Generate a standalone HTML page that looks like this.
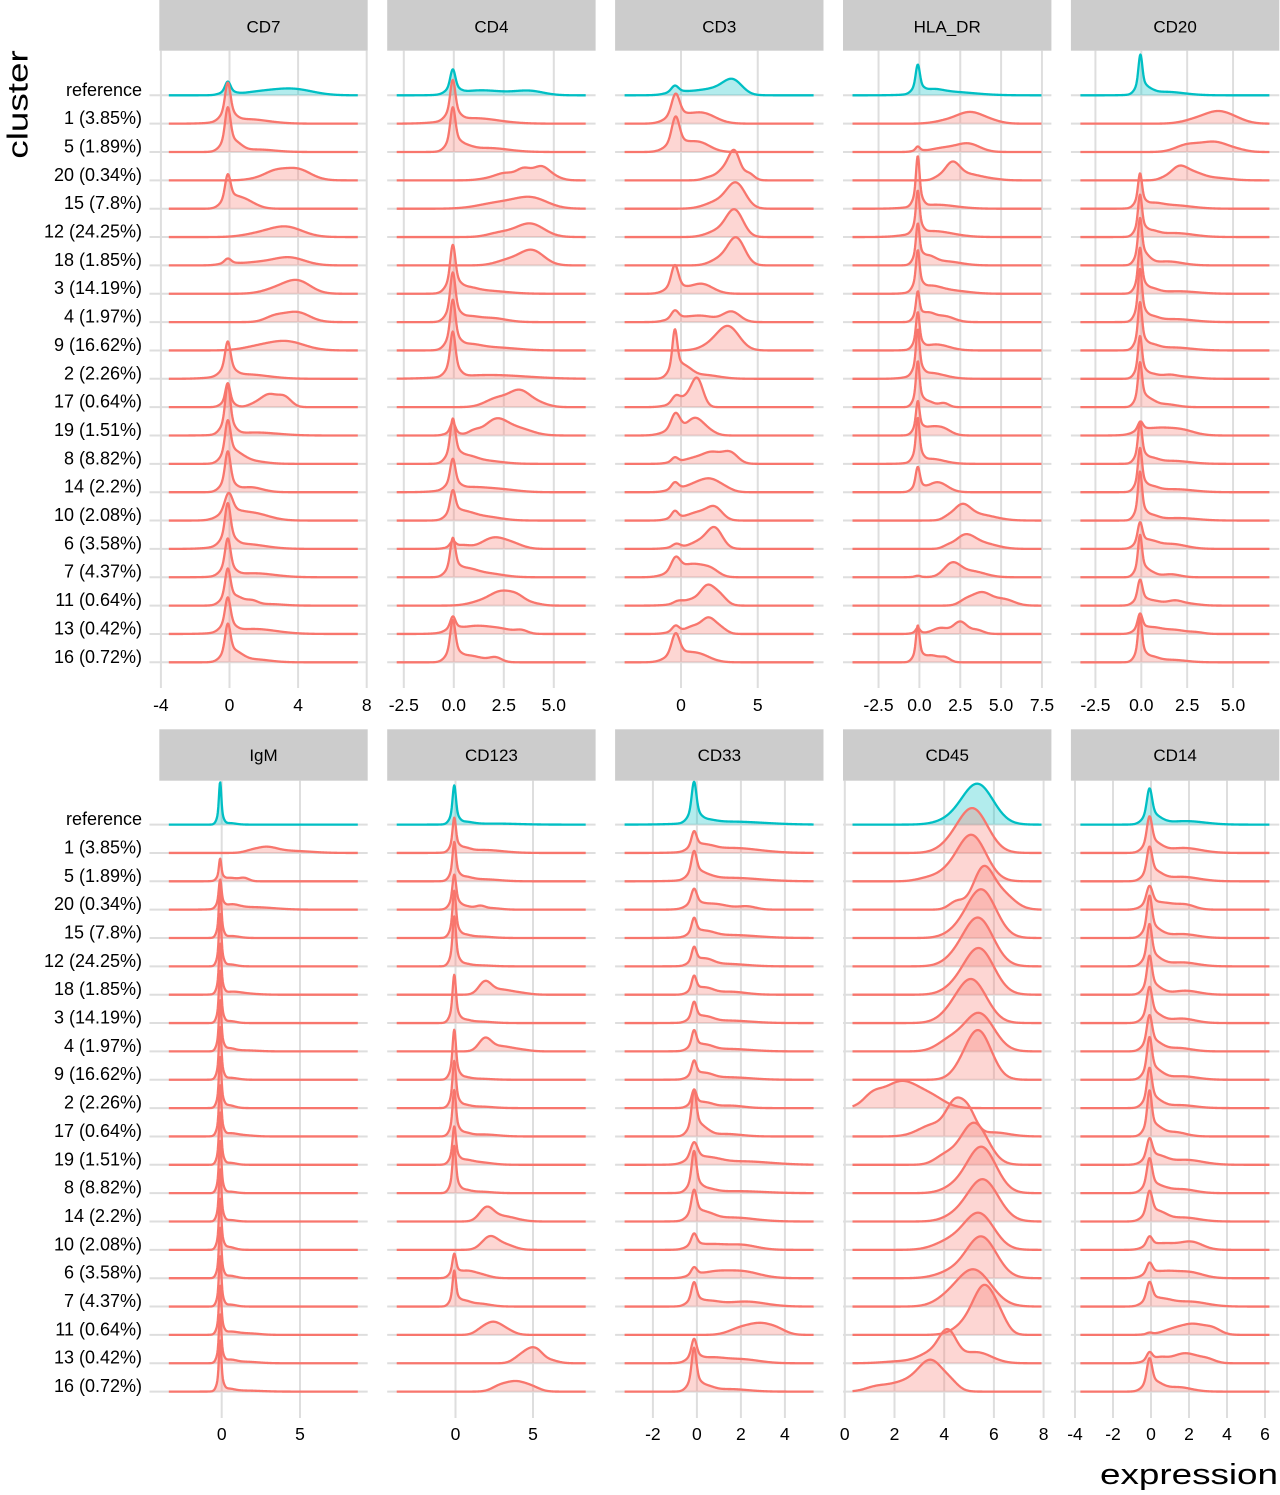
<!DOCTYPE html>
<html><head><meta charset="utf-8"><style>
html,body{margin:0;padding:0;background:#fff;overflow:hidden;}
svg{display:block;}
text{font-family:"Liberation Sans",Arial,Helvetica,sans-serif;fill:#000;}
</style></head><body>
<svg id="s" width="1280" height="1495" viewBox="0 0 1280 1495" xmlns="http://www.w3.org/2000/svg">
<rect width="1280" height="1495" fill="#fff"/>
<g id="grid"></g>
<g id="curves"></g>
<g id="strips">
<rect x="159.3" y="0" width="208.4" height="50.7" fill="#cccccc"/>
<rect x="387.2" y="0" width="208.4" height="50.7" fill="#cccccc"/>
<rect x="615.1" y="0" width="208.4" height="50.7" fill="#cccccc"/>
<rect x="843.0" y="0" width="208.4" height="50.7" fill="#cccccc"/>
<rect x="1070.9" y="0" width="208.4" height="50.7" fill="#cccccc"/>
<rect x="159.3" y="729.3" width="208.4" height="51.4" fill="#cccccc"/>
<rect x="387.2" y="729.3" width="208.4" height="51.4" fill="#cccccc"/>
<rect x="615.1" y="729.3" width="208.4" height="51.4" fill="#cccccc"/>
<rect x="843.0" y="729.3" width="208.4" height="51.4" fill="#cccccc"/>
<rect x="1070.9" y="729.3" width="208.4" height="51.4" fill="#cccccc"/>
<g font-size="17" text-anchor="middle">
<text x="263.5" y="32.6">CD7</text>
<text x="491.4" y="32.6">CD4</text>
<text x="719.3" y="32.6">CD3</text>
<text x="947.2" y="32.6">HLA_DR</text>
<text x="1175.1" y="32.6">CD20</text>
<text x="263.5" y="761">IgM</text>
<text x="491.4" y="761">CD123</text>
<text x="719.3" y="761">CD33</text>
<text x="947.2" y="761">CD45</text>
<text x="1175.1" y="761">CD14</text>
</g>
</g>
<g font-size="18" text-anchor="end">
<text x="142" y="95.8">reference</text>
<text x="142" y="124.1">1 (3.85%)</text>
<text x="142" y="152.5">5 (1.89%)</text>
<text x="142" y="180.8">20 (0.34%)</text>
<text x="142" y="209.2">15 (7.8%)</text>
<text x="142" y="237.5">12 (24.25%)</text>
<text x="142" y="265.9">18 (1.85%)</text>
<text x="142" y="294.2">3 (14.19%)</text>
<text x="142" y="322.6">4 (1.97%)</text>
<text x="142" y="350.9">9 (16.62%)</text>
<text x="142" y="379.3">2 (2.26%)</text>
<text x="142" y="407.6">17 (0.64%)</text>
<text x="142" y="436.0">19 (1.51%)</text>
<text x="142" y="464.3">8 (8.82%)</text>
<text x="142" y="492.7">14 (2.2%)</text>
<text x="142" y="521.0">10 (2.08%)</text>
<text x="142" y="549.4">6 (3.58%)</text>
<text x="142" y="577.7">7 (4.37%)</text>
<text x="142" y="606.1">11 (0.64%)</text>
<text x="142" y="634.4">13 (0.42%)</text>
<text x="142" y="662.8">16 (0.72%)</text>
<text x="142" y="825.1">reference</text>
<text x="142" y="853.4">1 (3.85%)</text>
<text x="142" y="881.8">5 (1.89%)</text>
<text x="142" y="910.1">20 (0.34%)</text>
<text x="142" y="938.5">15 (7.8%)</text>
<text x="142" y="966.8">12 (24.25%)</text>
<text x="142" y="995.2">18 (1.85%)</text>
<text x="142" y="1023.5">3 (14.19%)</text>
<text x="142" y="1051.9">4 (1.97%)</text>
<text x="142" y="1080.2">9 (16.62%)</text>
<text x="142" y="1108.6">2 (2.26%)</text>
<text x="142" y="1136.9">17 (0.64%)</text>
<text x="142" y="1165.3">19 (1.51%)</text>
<text x="142" y="1193.6">8 (8.82%)</text>
<text x="142" y="1222.0">14 (2.2%)</text>
<text x="142" y="1250.3">10 (2.08%)</text>
<text x="142" y="1278.7">6 (3.58%)</text>
<text x="142" y="1307.0">7 (4.37%)</text>
<text x="142" y="1335.4">11 (0.64%)</text>
<text x="142" y="1363.7">13 (0.42%)</text>
<text x="142" y="1392.1">16 (0.72%)</text>
</g>
<g font-size="17.5" text-anchor="middle">
<text x="160.9" y="711">-4</text>
<text x="229.5" y="711">0</text>
<text x="298.1" y="711">4</text>
<text x="366.7" y="711">8</text>
<text x="403.8" y="711">-2.5</text>
<text x="453.8" y="711">0.0</text>
<text x="503.8" y="711">2.5</text>
<text x="553.8" y="711">5.0</text>
<text x="681" y="711">0</text>
<text x="757.8" y="711">5</text>
<text x="878.5" y="711">-2.5</text>
<text x="919.4" y="711">0.0</text>
<text x="960.3" y="711">2.5</text>
<text x="1001.1" y="711">5.0</text>
<text x="1042" y="711">7.5</text>
<text x="1095.4" y="711">-2.5</text>
<text x="1141.3" y="711">0.0</text>
<text x="1187.2" y="711">2.5</text>
<text x="1233.1" y="711">5.0</text>
<text x="221.7" y="1440">0</text>
<text x="300" y="1440">5</text>
<text x="455.5" y="1440">0</text>
<text x="533" y="1440">5</text>
<text x="652.9" y="1440">-2</text>
<text x="696.9" y="1440">0</text>
<text x="740.9" y="1440">2</text>
<text x="784.9" y="1440">4</text>
<text x="844.8" y="1440">0</text>
<text x="894.5" y="1440">2</text>
<text x="944.2" y="1440">4</text>
<text x="993.9" y="1440">6</text>
<text x="1043.6" y="1440">8</text>
<text x="1075" y="1440">-4</text>
<text x="1113" y="1440">-2</text>
<text x="1151" y="1440">0</text>
<text x="1189" y="1440">2</text>
<text x="1227" y="1440">4</text>
<text x="1265" y="1440">6</text>
</g>
<text font-size="29" text-anchor="middle" transform="translate(27.3,104.5) rotate(-90) scale(1.27,1)">cluster</text>
<text font-size="29" text-anchor="end" transform="translate(1278,1484) scale(1.27,1)">expression</text>
</svg>
<script>
(function(){
var NS="http://www.w3.org/2000/svg";
var W=208.4, Ls=[159.3,387.2,615.1,843.0,1070.9];
var B=[95.3,824.6], SP=28.35;
var P=[
{c:0,r:0,z:229.5,k:17.15,t:[-4,0,4,8],d:[
[[-0.1,0.15,13,1],[3.8,1.1,5.5],[2.2,1.2,2.5],[1.5,1.0,1.2]],
[[-0.1,0.15,38,1],[1.0,1.2,4.5]],
[[-0.1,0.15,43,1],[0.5,0.35,5],[1.6,1.0,2.5]],
[[3.9,0.8,11.5],[2.6,0.6,7],[1.6,0.6,1.5]],
[[-0.1,0.15,30,1],[0.6,0.55,10],[1.4,0.5,2.5]],
[[3.3,0.95,10],[1.7,0.9,3]],
[[-0.1,0.18,6,1],[3.5,0.9,7.5],[1.6,1.1,3]],
[[4.0,0.75,12],[2.8,0.8,5]],
[[3.9,0.75,10],[2.6,0.55,5]],
[[3.3,1.05,9],[1.6,0.9,3]],
[[-0.1,0.15,34,1],[0.9,1.3,4.5]],
[[-0.1,0.13,24,1],[2.3,0.45,12],[3.2,0.4,10],[1.5,0.4,3]],
[[-0.1,0.14,50,1],[1.5,1.3,3]],
[[-0.1,0.15,40,1],[0.5,0.45,7],[1.2,0.8,3]],
[[-0.1,0.15,40,1],[1.2,0.7,5]],
[[-0.05,0.22,24,1],[1.0,0.9,7],[2.0,0.8,2]],
[[-0.1,0.15,42,1],[0.8,1.2,5]],
[[-0.1,0.15,37,1],[1.4,1.2,4]],
[[-0.1,0.15,36,1],[0.55,0.35,6],[1.3,0.35,4.5],[2.3,0.8,1.5]],
[[-0.1,0.15,34,1],[1.4,1.3,5]],
[[-0.1,0.15,36,1],[0.5,0.4,6],[1.4,0.9,3]]
]},
{c:1,r:0,z:453.8,k:20.0,t:[-2.5,0,2.5,5],d:[
[[-0.05,0.12,24,1],[1.0,0.9,3.5],[2.2,1.0,2.5],[3.8,0.7,4]],
[[-0.05,0.12,40,1],[1.0,1.2,5.5]],
[[-0.05,0.12,42,1],[0.5,0.4,5],[1.7,1.0,4]],
[[3.5,0.35,10],[4.35,0.4,13],[2.6,0.5,7],[5.0,0.4,3],[1.7,0.5,1.5]],
[[3.9,0.8,10],[2.3,1.0,6]],
[[3.8,0.7,13.5],[2.3,0.6,4]],
[[3.9,0.6,15],[2.7,0.6,5]],
[[-0.05,0.12,46,1],[0.6,0.5,5],[1.6,1.0,3]],
[[-0.05,0.12,48,1],[0.7,0.5,5],[1.9,0.7,4]],
[[-0.05,0.12,48,1],[0.7,0.6,5],[2.0,1.1,3]],
[[-0.05,0.12,45,1],[1.8,1.8,3.8]],
[[3.3,0.5,15],[2.2,0.6,9],[4.2,0.5,4]],
[[-0.05,0.12,13,1],[2.1,0.55,15],[3.2,0.7,7],[1.0,0.3,4]],
[[-0.05,0.12,42,1],[0.6,0.5,7],[1.6,0.8,3]],
[[-0.05,0.12,30,1],[0.8,1.0,5],[2.5,0.8,2]],
[[-0.05,0.12,26,1],[0.5,0.5,7],[1.5,0.8,4]],
[[-0.05,0.13,7,1],[0.5,0.35,3],[2.0,0.6,11],[3.0,0.5,4]],
[[-0.05,0.12,36,1],[0.6,0.5,7],[1.6,0.8,4]],
[[2.4,0.55,13],[3.2,0.4,7],[1.4,0.6,4],[4.0,0.4,2]],
[[-0.05,0.12,14,1],[1.1,0.9,8],[3.4,0.3,3],[2.5,0.6,3]],
[[-0.05,0.12,40,1],[0.6,0.5,5],[2.1,0.3,4],[1.3,0.6,3]]
]},
{c:2,r:0,z:681,k:15.35,t:[0,5],d:[
[[-0.4,0.22,8,1],[1.5,1.3,5],[3.4,0.6,13],[2.6,0.7,3]],
[[-0.35,0.25,28,1],[1.3,0.9,11]],
[[-0.35,0.24,34,1],[1.1,0.75,10]],
[[3.5,0.35,24],[2.9,0.5,12],[4.4,0.35,7],[1.8,0.4,2.5]],
[[3.6,0.6,24],[2.4,0.8,7]],
[[3.5,0.55,26],[2.4,0.7,6]],
[[3.6,0.55,27],[2.5,0.6,6]],
[[-0.4,0.22,28,1],[1.3,0.75,10]],
[[-0.4,0.22,10,1],[1.2,1.0,6.5],[3.3,0.55,10]],
[[3.1,0.7,23],[2.0,0.7,5]],
[[-0.4,0.15,46,1],[0.3,0.45,9],[1.4,1.0,4]],
[[-0.35,0.25,10,1],[1.05,0.38,28],[0.3,0.4,7]],
[[-0.35,0.28,22,1],[0.9,0.5,15],[1.7,0.5,5]],
[[-0.4,0.2,6,1],[2.0,0.6,11],[3.2,0.5,11],[0.8,0.6,5]],
[[-0.4,0.22,9,1],[1.0,0.7,8],[2.0,0.6,10],[2.9,0.5,3]],
[[-0.4,0.2,9,1],[1.1,0.7,8],[2.2,0.5,12]],
[[-0.3,0.25,5,1],[2.2,0.5,20],[1.2,0.6,7]],
[[-0.35,0.28,17,1],[0.9,0.8,12],[2.0,0.5,5]],
[[-0.2,0.3,4,1],[1.7,0.45,18],[2.5,0.45,10],[0.7,0.5,5]],
[[-0.35,0.22,8,1],[0.8,0.5,7],[1.8,0.45,15],[2.6,0.4,5]],
[[-0.35,0.25,27,1],[1.0,0.8,9]]
]},
{c:3,r:0,z:919.4,k:16.34,t:[-2.5,0,2.5,5,7.5],d:[
[[-0.1,0.12,28,1],[0.8,0.6,3.5],[1.8,1.5,3.5]],
[[3.1,0.85,11.5],[1.5,0.7,2],[4.5,0.6,1.5]],
[[-0.1,0.12,5,1],[1.5,0.8,4],[3.0,0.7,8]],
[[2.0,0.45,16],[3.0,0.8,6],[1.1,0.3,2],[4.5,0.6,1]],
[[-0.1,0.1,50,1],[1.0,1.2,4]],
[[-0.1,0.1,42,1],[0.8,1.2,6]],
[[-0.1,0.1,38,1],[0.5,0.45,8],[1.6,0.9,4]],
[[-0.1,0.1,39,1],[0.6,0.7,7],[2.0,1.0,3]],
[[-0.1,0.1,28,1],[0.5,0.4,8],[1.5,0.6,6]],
[[-0.1,0.1,36,1],[1.0,0.8,6]],
[[-0.1,0.1,45,1],[0.6,0.9,6]],
[[-0.1,0.1,44,1],[0.5,0.4,6],[1.5,0.3,4]],
[[-0.1,0.1,31,1],[0.5,0.5,7],[1.4,0.5,7]],
[[-0.1,0.1,43,1],[0.7,0.8,5]],
[[-0.1,0.12,24,1],[1.1,0.6,10]],
[[2.6,0.5,13],[3.6,1.0,6],[1.7,0.3,2]],
[[2.8,0.6,13],[4.0,0.8,5],[1.7,0.3,2]],
[[-0.1,0.15,1.5,1],[2.0,0.5,13],[3.2,0.8,6]],
[[3.8,0.6,13],[5.2,0.6,6],[2.8,0.4,4]],
[[-0.1,0.12,6,1],[1.3,0.5,6],[2.5,0.4,12],[3.5,0.4,4]],
[[-0.1,0.1,35,1],[0.7,0.5,7],[1.6,0.3,4]]
]},
{c:4,r:0,z:1141.3,k:18.35,t:[-2.5,0,2.5,5],d:[
[[-0.05,0.1,38,1],[0.4,0.3,4],[1.3,1.0,3.5]],
[[4.2,0.7,11],[3.0,0.7,4],[5.2,0.6,3]],
[[2.4,0.6,6],[4.1,0.7,9],[3.2,0.6,3],[5.3,0.5,1.5]],
[[2.05,0.45,13],[2.9,0.5,6],[4.0,0.8,2.5],[1.2,0.3,1.5]],
[[-0.07,0.1,33,1],[0.6,0.5,4],[1.7,1.0,3.5]],
[[-0.07,0.1,40,1],[0.5,0.4,5],[1.8,1.0,4]],
[[-0.07,0.1,44,1],[0.3,0.3,6],[1.4,0.8,4]],
[[-0.07,0.1,44,1],[0.5,0.4,5],[2.0,1.0,2.5]],
[[-0.07,0.1,51,1],[0.5,0.4,5],[1.8,1.0,3]],
[[-0.07,0.1,46,1],[0.5,0.4,5],[1.7,1.0,3]],
[[-0.07,0.1,41,1],[0.5,0.4,5],[1.5,0.4,3],[2.3,0.7,2]],
[[-0.07,0.1,42,1],[0.4,0.35,7],[1.3,0.6,3]],
[[-0.05,0.13,10,1],[0.8,0.8,7],[2.2,0.7,5]],
[[-0.07,0.1,40,1],[0.5,0.4,5],[1.7,0.9,3]],
[[-0.07,0.1,42,1],[0.5,0.4,5],[1.8,1.0,3]],
[[-0.07,0.1,47,1],[0.5,0.4,5],[2.0,1.0,2.5]],
[[-0.07,0.12,24,1],[0.5,0.4,6],[1.6,0.8,5]],
[[-0.07,0.1,40,1],[0.4,0.35,6],[1.6,0.5,3]],
[[-0.07,0.12,24,1],[0.6,0.5,5],[1.8,0.4,4],[2.5,0.6,2]],
[[-0.07,0.12,18,1],[0.6,0.5,6],[1.8,0.6,4],[3.0,0.4,1.5]],
[[-0.07,0.1,43,1],[0.5,0.4,5],[1.6,0.8,2.5]]
]},
{c:0,r:1,z:221.7,k:15.66,t:[0,5],d:[
[[-0.1,0.07,42,1],[0.5,0.4,1.5]],
[[2.8,0.7,5.5],[4.5,1.2,2],[1.8,0.4,1]],
[[-0.1,0.07,21,1],[0.5,0.5,3.5],[1.45,0.3,3]],
[[-0.1,0.08,28,1],[0.6,0.5,4],[2.0,1.3,2.5]],
[[-0.1,0.07,50,1],[0.6,0.5,2]],
[[-0.1,0.07,52,1],[0.5,0.4,2]],
[[-0.1,0.07,50,1],[0.6,0.6,2.5],[1.5,0.8,1]],
[[-0.1,0.07,52,1],[0.5,0.4,2]],
[[-0.1,0.07,50,1],[0.4,0.4,3],[1.5,0.8,1]],
[[-0.1,0.07,52,1],[0.5,0.5,2]],
[[-0.1,0.07,50,1],[0.4,0.4,3]],
[[-0.1,0.07,50,1],[0.5,0.5,3],[1.5,0.6,1]],
[[-0.1,0.07,52,1],[0.5,0.4,2]],
[[-0.1,0.07,52,1],[0.5,0.4,1.5]],
[[-0.1,0.07,52,1],[0.5,0.4,1.5]],
[[-0.1,0.07,50,1],[0.4,0.4,3]],
[[-0.1,0.07,50,1],[0.5,0.4,2.5]],
[[-0.1,0.07,50,1],[0.5,0.4,2]],
[[-0.1,0.07,48,1],[0.5,0.5,3],[1.7,0.7,1.5]],
[[-0.1,0.07,48,1],[0.5,0.4,3],[1.5,0.8,1.5]],
[[-0.1,0.07,50,1],[0.4,0.4,2.5],[1.5,1.0,1]]
]},
{c:1,r:1,z:455.5,k:15.5,t:[0,5],d:[
[[-0.08,0.1,38,1],[0.6,0.5,2.5],[2.5,1.5,1]],
[[-0.08,0.1,33,1],[0.5,0.4,4],[1.8,1.2,3]],
[[-0.08,0.1,37,1],[0.5,0.5,4],[1.8,1.0,2]],
[[-0.08,0.11,33,1],[0.5,0.5,4],[1.6,0.3,3],[2.3,0.6,1.5]],
[[-0.08,0.1,46,1],[0.5,0.4,3],[1.5,0.8,1.5]],
[[-0.08,0.1,49,1],[0.5,0.4,2.5],[1.5,0.8,1]],
[[1.9,0.4,12],[2.9,0.7,5],[4.2,0.6,1.5]],
[[-0.08,0.1,47,1],[0.5,0.4,3],[1.5,0.8,1.5]],
[[1.9,0.4,12],[2.9,0.7,5],[4.2,0.6,1.5]],
[[-0.08,0.1,49,1],[0.5,0.4,2.5],[1.5,0.8,1]],
[[-0.08,0.1,46,1],[0.5,0.4,3],[1.6,0.8,1.5]],
[[-0.08,0.1,45,1],[0.5,0.4,3.5],[1.8,0.9,2]],
[[-0.08,0.1,36,1],[0.5,0.5,4],[1.5,0.8,2.5]],
[[-0.08,0.1,46,1],[0.5,0.4,3],[1.5,0.8,1.5]],
[[2.0,0.45,13],[3.0,0.7,5],[4.0,0.6,1]],
[[2.2,0.5,12.5],[3.2,0.6,5]],
[[-0.08,0.11,22,1],[0.6,0.5,6],[1.5,0.6,4]],
[[-0.08,0.1,34,1],[0.5,0.4,5],[1.5,0.7,3]],
[[2.4,0.55,12],[1.6,0.4,3],[3.3,0.5,4]],
[[4.7,0.45,11],[5.3,0.4,9],[4.0,0.4,4],[6.1,0.5,3]],
[[3.9,0.7,10],[2.8,0.5,4],[5.0,0.5,3]]
]},
{c:2,r:1,z:696.9,k:22.0,t:[-2,0,2,4],d:[
[[-0.13,0.1,40,1],[0.4,0.4,3],[1.5,1.5,3]],
[[-0.13,0.11,18,1],[0.4,0.4,5],[1.6,1.2,5]],
[[-0.13,0.11,26,1],[0.3,0.4,5],[1.5,1.3,3.5]],
[[-0.13,0.12,18,1],[0.7,0.7,6],[2.3,0.4,3]],
[[-0.13,0.1,17,1],[0.4,0.4,5],[1.5,1.2,3]],
[[-0.13,0.1,17,1],[0.4,0.35,6],[1.3,0.9,2.5]],
[[-0.13,0.1,17,1],[0.4,0.35,6],[1.5,0.7,3]],
[[-0.13,0.1,19,1],[0.4,0.35,5],[1.4,1.0,2.5]],
[[-0.13,0.1,19,1],[0.4,0.35,5],[1.4,1.0,2.5]],
[[-0.13,0.1,17,1],[0.4,0.35,5],[1.4,1.0,2.5]],
[[-0.13,0.1,17,1],[0.4,0.35,5],[1.5,0.6,2.5]],
[[-0.13,0.1,44,1],[0.3,0.3,7],[1.3,0.7,2.5]],
[[-0.13,0.15,20,1],[0.6,0.5,5],[2.0,1.3,3.5]],
[[-0.13,0.1,40,1],[0.4,0.4,4],[1.8,1.2,2]],
[[-0.13,0.11,28,1],[0.4,0.4,7],[1.6,1.0,4]],
[[-0.13,0.12,14,1],[0.6,0.6,5],[2.0,0.7,5]],
[[-0.13,0.12,9,1],[0.7,0.6,5],[2.0,0.8,7]],
[[-0.13,0.11,22,1],[0.5,0.5,5],[2.2,0.9,5]],
[[2.9,0.6,11],[1.9,0.5,5],[3.7,0.4,3]],
[[-0.13,0.11,22,1],[0.6,0.6,5],[2.0,0.8,4]],
[[-0.13,0.1,42,1],[0.4,0.35,5],[1.5,0.8,2.5]]
]},
{c:3,r:1,z:844.8,k:24.85,t:[0,2,4,6,8],d:[
[[5.35,0.62,40],[4.3,0.6,4]],
[[5.15,0.6,44],[4.2,0.5,5]],
[[5.1,0.58,46],[4.0,0.5,6],[3.2,0.4,2]],
[[5.55,0.4,38],[6.3,0.5,16],[4.5,0.3,8]],
[[5.5,0.58,48],[4.5,0.5,5]],
[[5.37,0.6,48],[4.4,0.5,5]],
[[5.4,0.6,46],[4.4,0.5,5]],
[[5.1,0.6,43],[4.2,0.5,5]],
[[5.4,0.6,38],[4.2,0.5,10]],
[[5.37,0.52,49],[4.6,0.4,4]],
[[2.3,0.8,27],[1.1,0.35,8],[3.6,0.5,6]],
[[4.45,0.35,30],[5.0,0.3,20],[3.6,0.6,12],[6.0,0.6,4]],
[[5.2,0.55,42],[4.0,0.4,8]],
[[5.5,0.58,46],[4.4,0.5,5]],
[[5.55,0.62,42],[4.4,0.5,4]],
[[5.4,0.6,36],[4.2,0.6,8]],
[[5.5,0.6,41],[4.3,0.6,6]],
[[5.17,0.7,37],[4.0,0.5,4]],
[[5.65,0.45,46],[6.3,0.3,8],[4.9,0.5,10]],
[[4.15,0.35,28],[3.5,0.5,10],[5.3,0.6,11],[2.3,0.7,2]],
[[3.5,0.5,27],[2.5,0.8,10],[1.2,0.4,3],[4.3,0.3,5]]
]},
{c:4,r:1,z:1151,k:19.0,t:[-4,-2,0,2,4,6],d:[
[[-0.08,0.13,34,1],[0.4,0.35,4],[1.8,1.0,3.5]],
[[-0.08,0.13,34,1],[0.4,0.35,5],[1.7,0.9,5]],
[[-0.08,0.13,32,1],[0.4,0.35,5],[1.6,0.9,4.5]],
[[-0.08,0.15,22,1],[0.7,0.5,6],[1.8,0.5,5]],
[[-0.08,0.12,40,1],[0.4,0.35,5],[1.6,0.8,4]],
[[-0.08,0.12,40,1],[0.4,0.35,5],[1.6,0.8,4]],
[[-0.08,0.12,37,1],[0.4,0.35,5],[1.8,0.7,4]],
[[-0.08,0.13,34,1],[0.4,0.35,5],[1.6,0.7,4.5]],
[[-0.08,0.13,34,1],[0.4,0.35,5],[1.4,0.7,3.5]],
[[-0.08,0.12,40,1],[0.4,0.35,6],[1.6,0.8,3.5]],
[[-0.08,0.12,38,1],[0.4,0.35,5],[1.5,0.8,3]],
[[-0.08,0.11,44,1],[0.4,0.3,6],[1.2,0.6,4.5]],
[[-0.08,0.14,24,1],[0.5,0.4,6],[1.8,0.9,5]],
[[-0.08,0.13,33,1],[0.5,0.4,5],[1.6,0.7,4]],
[[-0.08,0.14,28,1],[0.5,0.4,7],[1.7,0.8,4]],
[[-0.08,0.14,11,1],[0.7,0.6,6],[2.1,0.6,8]],
[[-0.08,0.14,13,1],[0.7,0.6,6],[2.0,0.7,6]],
[[-0.08,0.14,22,1],[0.6,0.5,6],[2.0,0.9,5]],
[[-0.08,0.14,2,1],[2.2,0.75,11],[1.0,0.5,3],[3.3,0.4,4]],
[[-0.08,0.14,10,1],[0.5,0.35,4],[1.8,0.7,10],[3.0,0.4,3]],
[[-0.08,0.13,31,1],[0.4,0.35,5],[1.4,0.7,4.5]]
]}
];
function val(u,d){
  var y=0;
  for(var i=0;i<d.length;i++){
    var c=d[i];
    if(c.length===4){
      var a=(u-c[0])/c[1], b=(u-c[0])/(2.5*c[1]);
      y+=0.7*c[2]*Math.exp(-0.5*a*a)+0.3*c[2]*Math.exp(-0.5*b*b);
    } else {
      var a2=(u-c[0])/c[1];
      y+=c[2]*Math.exp(-0.5*a2*a2);
    }
  }
  return y;
}
function el(tag,attrs,parent){
  var e=document.createElementNS(NS,tag);
  for(var k in attrs) e.setAttribute(k,attrs[k]);
  parent.appendChild(e);
  return e;
}
var grid=document.getElementById('grid');
var curves=document.getElementById('curves');
var gd="";
for(var p=0;p<P.length;p++){
  var pn=P[p], L=Ls[pn.c], top=pn.r?780.7:50.7, bot=pn.r?1418:688, b0=B[pn.r];
  for(var t=0;t<pn.t.length;t++){
    var x=(pn.z+pn.k*pn.t[t]).toFixed(2);
    gd+="M"+x+" "+top+"V"+bot;
  }
  var xl=pn.c===0?149.5:L;
  for(var i=0;i<21;i++){
    var yb=(b0+SP*i).toFixed(2);
    gd+="M"+xl+" "+yb+"H"+(L+W).toFixed(2);
  }
}
el('path',{d:gd,stroke:'#dedede','stroke-width':'2',fill:'none'},grid);
for(var p2=0;p2<P.length;p2++){
  var q=P[p2], L2=Ls[q.c], xs=L2+9.5, xe=L2+W-9.5, bb=B[q.r];
  for(var r=0;r<21;r++){
    var base=bb+SP*r, pts=[];
    for(var x2=xs;x2<=xe+0.001;x2+=0.5){
      var u=(x2-q.z)/q.k;
      pts.push(x2.toFixed(1)+" "+(base-val(u,q.d[r])).toFixed(2));
    }
    var line="M"+pts.join("L");
    var col=r===0?'#00BFC4':'#F8766D';
    el('path',{d:line+"L"+xe.toFixed(1)+" "+base.toFixed(2)+"L"+xs.toFixed(1)+" "+base.toFixed(2)+"Z",fill:col,'fill-opacity':'0.3',stroke:'none'},curves);
    el('path',{d:line,fill:'none',stroke:col,'stroke-width':'2.3','stroke-linejoin':'round','stroke-linecap':'butt'},curves);
  }
}
})();
</script>
</body></html>
